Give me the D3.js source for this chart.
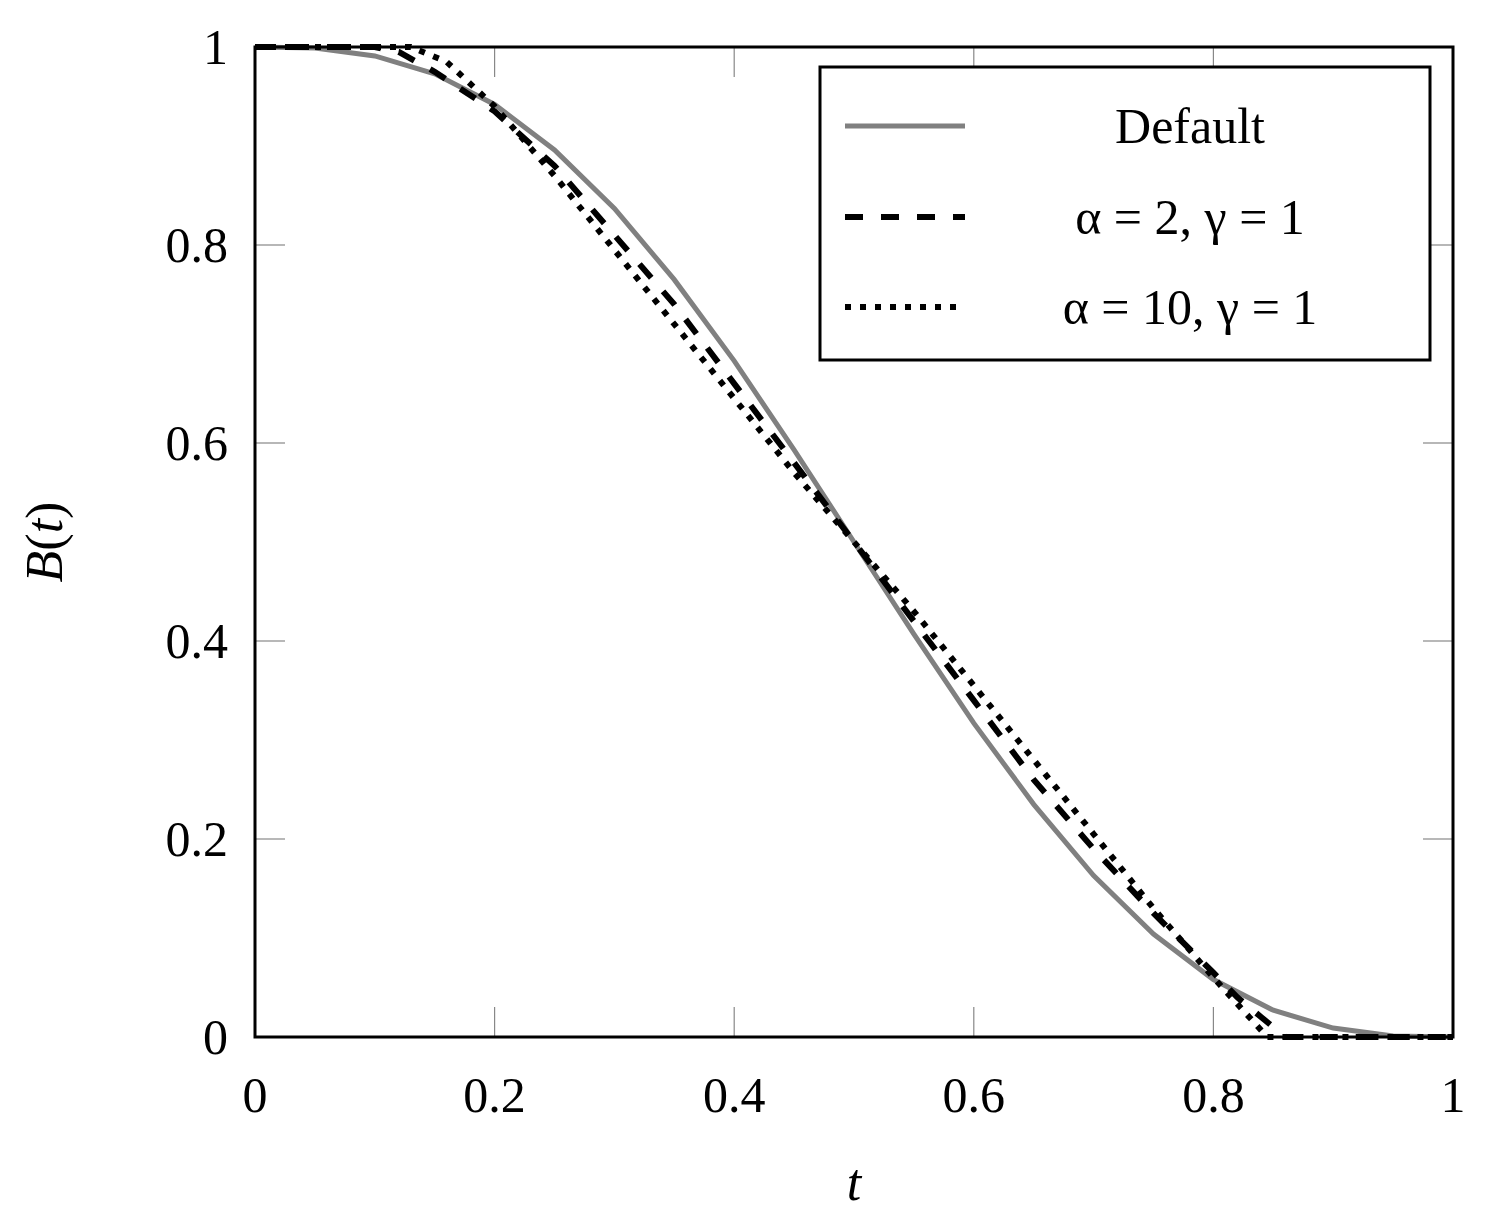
<!DOCTYPE html>
<html><head><meta charset="utf-8">
<script src="https://cdn.jsdelivr.net/npm/d3@7"></script>
<style>body{margin:0;background:#fff}</style>
</head><body><div id="chart"></div>
<script>
// values
var tDefault = [0,0.05,0.1,0.15,0.2,0.25,0.3,0.35,0.4,0.45,0.5,0.55,0.6,0.65,0.7,0.75,0.8,0.85,0.9,0.95,1];
var bDefault = [1,0.999,0.991,0.973,0.942,0.896,0.837,0.765,0.683,0.593,0.5,0.407,0.317,0.235,0.163,0.104,0.058,0.027,0.009,0.001,0];
var tDash = [0,0.1,0.12,0.15,0.2,0.25,0.3,0.35,0.4,0.45,0.5,0.55,0.6,0.65,0.7,0.75,0.8,0.82,0.84,0.85,0.86,1];
var bDash = [1,1,0.995,0.975,0.935,0.88,0.81,0.74,0.66,0.58,0.5,0.42,0.34,0.26,0.19,0.125,0.065,0.04,0.02,0.01,0,0];
var tDot = [0,0.13,0.16,0.2,0.25,0.3,0.35,0.4,0.45,0.5,0.55,0.6,0.65,0.7,0.75,0.8,0.83,0.845,1];
var bDot = [1,1,0.985,0.94,0.87,0.795,0.72,0.645,0.57,0.5,0.43,0.355,0.28,0.205,0.13,0.06,0.02,0,0];
var ticks = [0,0.2,0.4,0.6,0.8,1];
var labels = ["Default","\u03b1 = 2, \u03b3 = 1","\u03b1 = 10, \u03b3 = 1"];

var W = 1486, H = 1227, font = "'Liberation Serif', serif";
var svg = d3.select("#chart").append("svg").attr("width",W).attr("height",H);
var x = d3.scaleLinear().domain([0,1]).range([255,1453]);
var y = d3.scaleLinear().domain([0,1]).range([1037,47]);

// inner grey ticks
ticks.forEach(function(v){
  svg.append("line").attr("x1",x(v)).attr("x2",x(v)).attr("y1",y(0)).attr("y2",y(0)-30).attr("stroke","#888").attr("stroke-width",1.2);
  svg.append("line").attr("x1",x(v)).attr("x2",x(v)).attr("y1",y(1)).attr("y2",y(1)+30).attr("stroke","#888").attr("stroke-width",1.2);
  svg.append("line").attr("y1",y(v)).attr("y2",y(v)).attr("x1",x(0)).attr("x2",x(0)+30).attr("stroke","#888").attr("stroke-width",1.2);
  svg.append("line").attr("y1",y(v)).attr("y2",y(v)).attr("x1",x(1)).attr("x2",x(1)-30).attr("stroke","#888").attr("stroke-width",1.2);
});

var line = d3.line().x(function(d){return x(d[0]);}).y(function(d){return y(d[1]);});
var series = [
  {t:tDefault,b:bDefault,color:"#808080",dash:null,w:5},
  {t:tDash,b:bDash,color:"#000",dash:"18,18",w:6},
  {t:tDot,b:bDot,color:"#000",dash:"6,9",w:6}
];
series.forEach(function(s){
  svg.append("path").datum(d3.zip(s.t,s.b)).attr("d",line)
    .attr("fill","none").attr("stroke",s.color).attr("stroke-width",s.w)
    .attr("stroke-dasharray",s.dash);
});

svg.append("rect").attr("x",x(0)).attr("y",y(1)).attr("width",x(1)-x(0)).attr("height",y(0)-y(1))
  .attr("fill","none").attr("stroke","#000").attr("stroke-width",3);

ticks.forEach(function(v){
  var lab = v===0||v===1 ? String(v) : v.toFixed(1);
  svg.append("text").attr("x",x(v)).attr("y",1112).attr("text-anchor","middle")
    .attr("font-family",font).attr("font-size",50).text(lab);
  svg.append("text").attr("x",228).attr("y",y(v)+17).attr("text-anchor","end")
    .attr("font-family",font).attr("font-size",50).text(lab);
});
svg.append("text").attr("x",854).attr("y",1200).attr("text-anchor","middle")
  .attr("font-family",font).attr("font-size",52).attr("font-style","italic").text("t");
svg.append("text").attr("transform","translate(62,542) rotate(-90)").attr("text-anchor","middle")
  .attr("font-family",font).attr("font-size",52).html("<tspan font-style='italic'>B</tspan>(<tspan font-style='italic'>t</tspan>)");

// legend
svg.append("rect").attr("x",820).attr("y",67).attr("width",610).attr("height",293)
  .attr("fill","#fff").attr("stroke","#000").attr("stroke-width",3);
var ly = [126,217,307];
series.forEach(function(s,i){
  svg.append("line").attr("x1",845).attr("x2",965).attr("y1",ly[i]).attr("y2",ly[i])
    .attr("stroke",s.color).attr("stroke-width",s.w).attr("stroke-dasharray",s.dash);
  svg.append("text").attr("x",1190).attr("y",ly[i]+17).attr("text-anchor","middle")
    .attr("font-family",font).attr("font-size",50).text(labels[i]);
});
</script></body></html>
